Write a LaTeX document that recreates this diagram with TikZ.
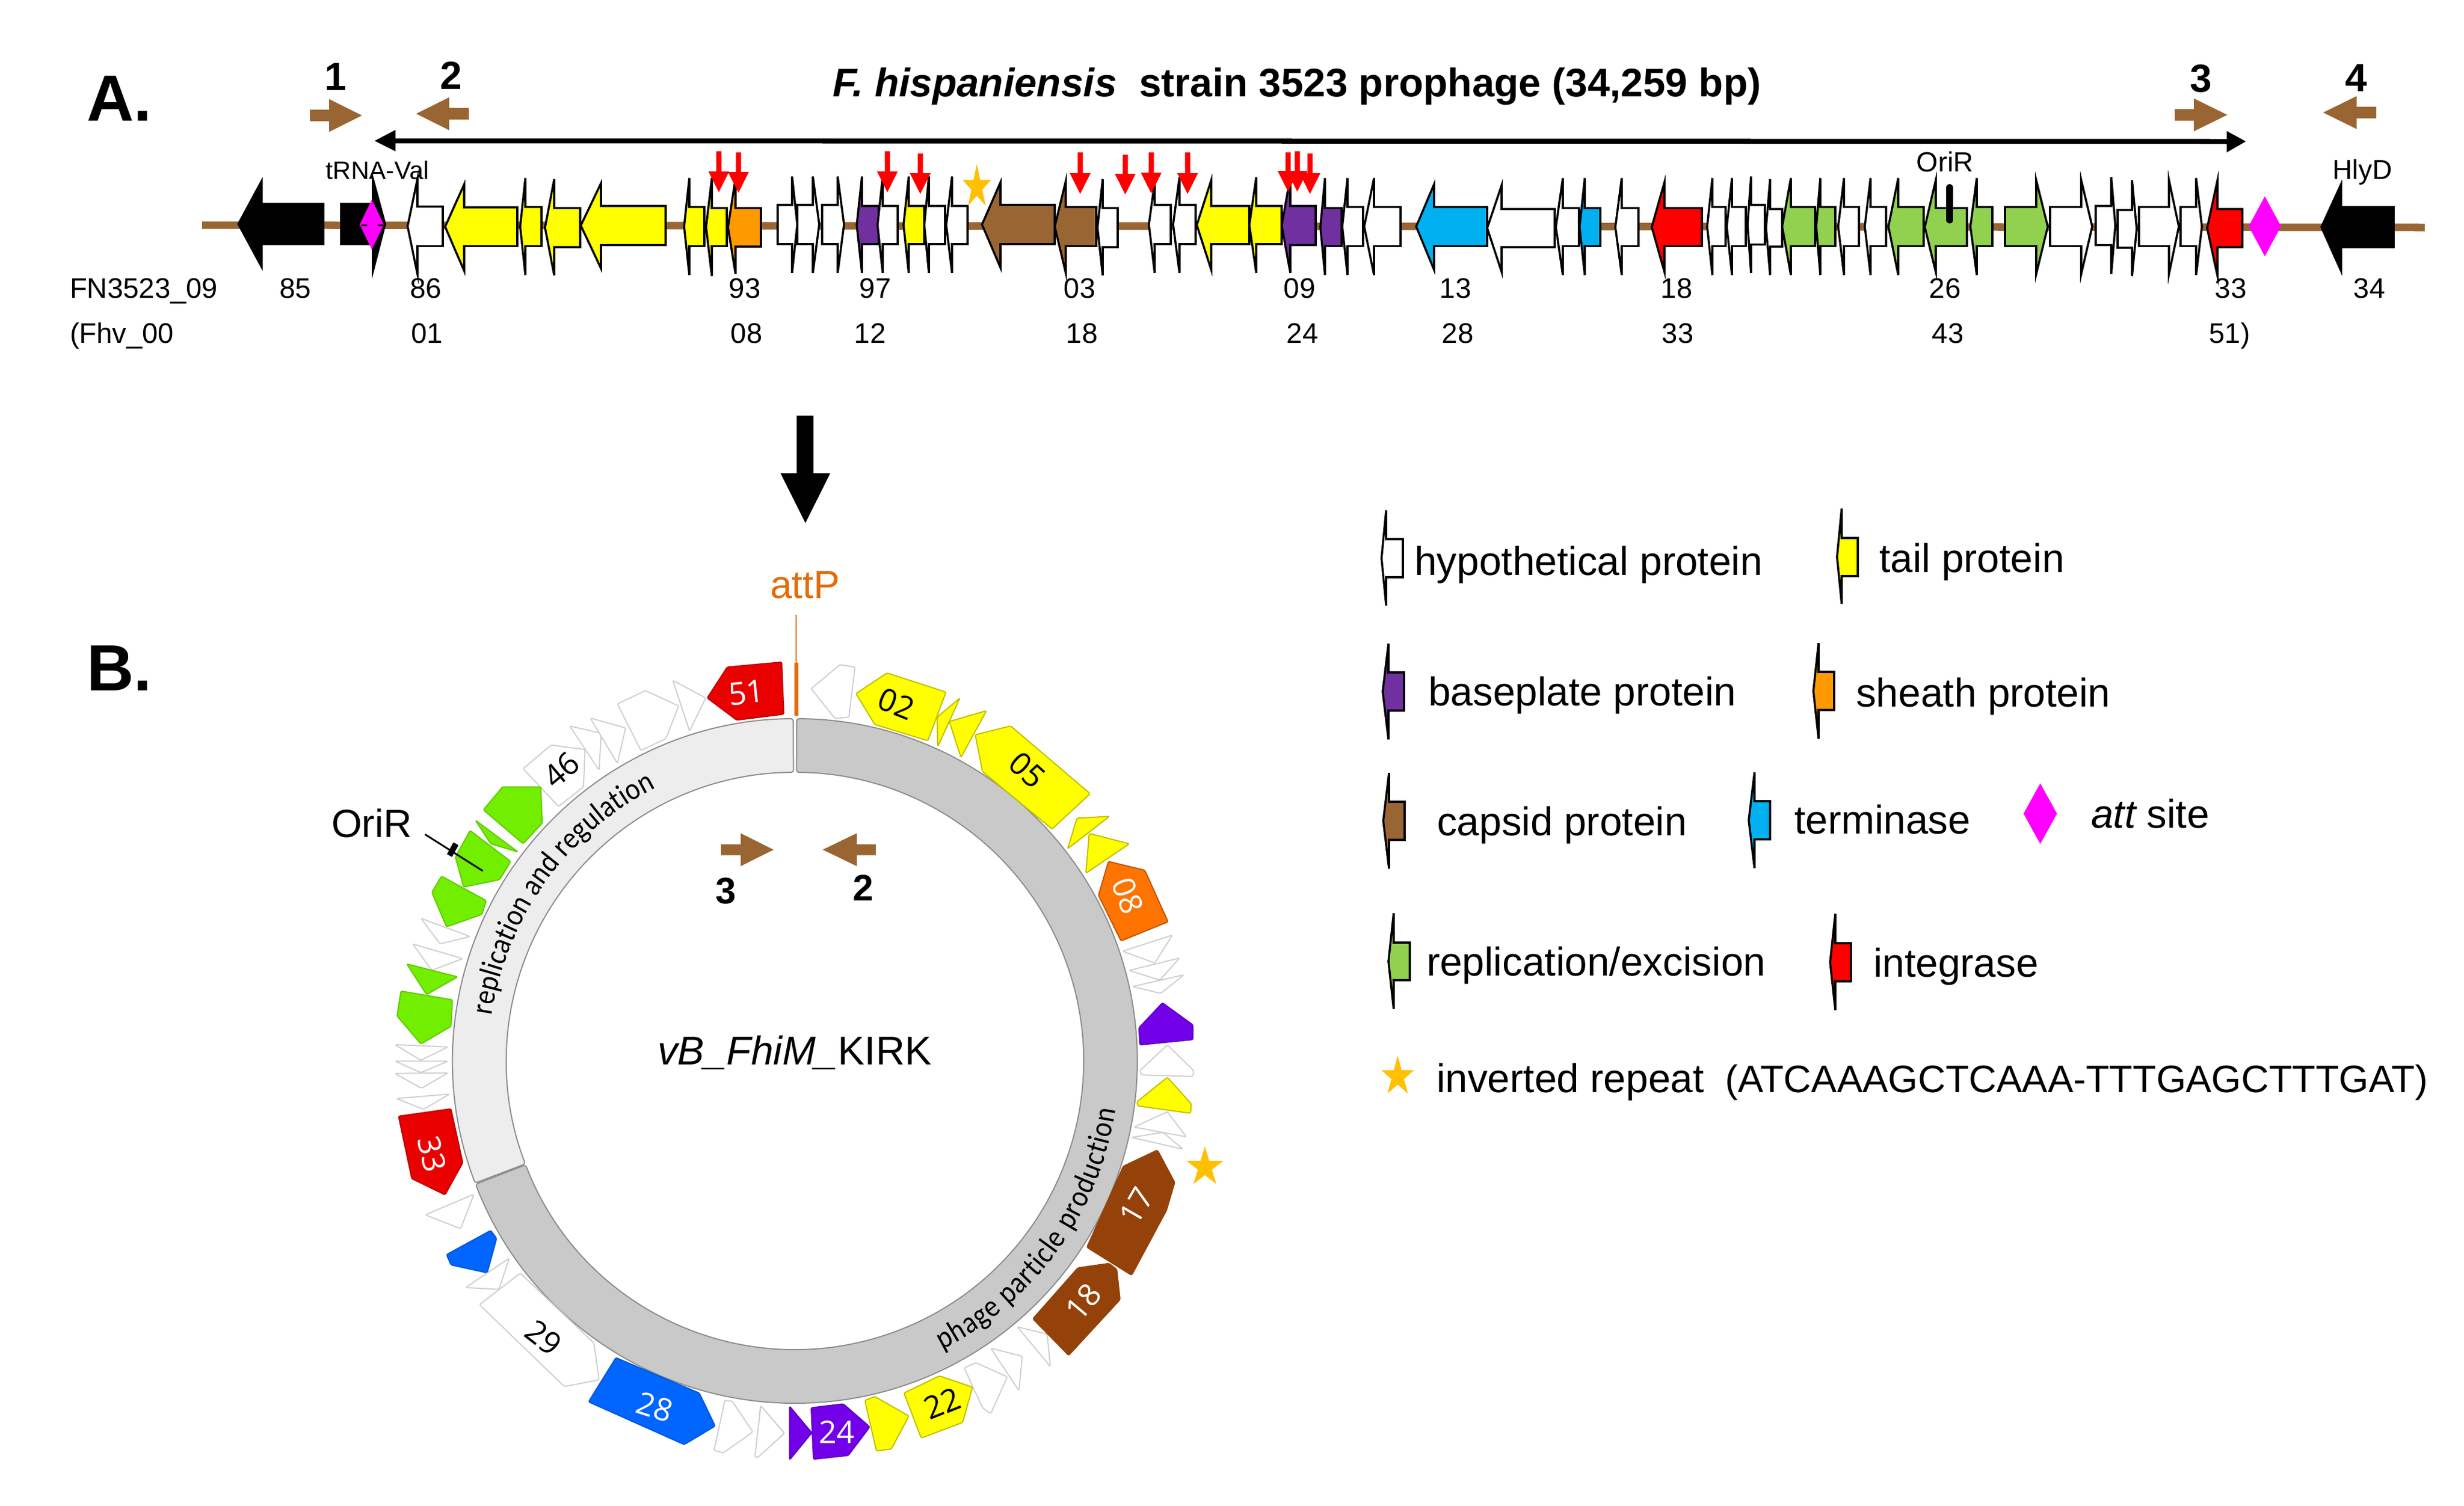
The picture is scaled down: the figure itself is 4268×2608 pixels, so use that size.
\documentclass[tikz,border=0pt]{standalone}
\usepackage{fontspec}
\usetikzlibrary{decorations.text}
\setmainfont{Liberation Sans}
\newfontfamily\ringfam[FakeStretch=0.88]{Carlito}
\newfontfamily\numfam{Open Sans}
\newcommand\fpx[1]{\pgfmathsetmacro\fsz{#1*0.28453}\fontsize{\fsz pt}{\fsz pt}\selectfont}
\newcommand\ringfont{\ringfam\fontsize{15.3pt}{15.3pt}\selectfont}
\definecolor{gbrown}{HTML}{996633}
\definecolor{gorange}{HTML}{FF9900}
\definecolor{gpurple}{HTML}{7030A0}
\definecolor{gcyan}{HTML}{00B0F0}
\definecolor{ggreen}{HTML}{92D050}
\definecolor{gstar}{HTML}{FFC000}
\definecolor{gmag}{HTML}{FF00FF}
\definecolor{cred}{HTML}{EB0000}
\definecolor{cyellow}{HTML}{FFFF00}
\definecolor{corange}{HTML}{FF7300}
\definecolor{cpurple}{HTML}{7200E8}
\definecolor{cgreen}{HTML}{72EE00}
\definecolor{cblue}{HTML}{0066FF}
\definecolor{cbrown}{HTML}{94420A}
\definecolor{cedge}{HTML}{CFCFCF}
\definecolor{attcol}{HTML}{E36C0A}
\tikzset{
  lab/.style={inner sep=0pt,outer sep=0pt,anchor=base west},
  labc/.style={inner sep=0pt,outer sep=0pt,anchor=base},
  gene/.style={draw=black,line width=0.036cm,line join=miter},
  cg/.style={line width=0.02cm,line join=round,rounded corners=0.025cm},
  numlab/.style={inner sep=0pt,outer sep=0pt,anchor=center,font=\numfam\fpx{54}},
  ringa/.style={draw=black!45,line width=0.02cm,rounded corners=0.04cm},
}
% tail, neck, tip, head top, head bottom, body top, body bottom, colour
\newcommand\genepoly[8]{\draw[gene,fill=#8] (#1,#6) -- (#2,#6) -- (#2,#4) -- (#3,{(#6+#7)/2}) -- (#2,#5) -- (#2,#7) -- (#1,#7) -- cycle;}
% x, y top, y tip
\newcommand\redarrow[3]{\fill[red] (#1-4.5,#2) -- (#1+4.5,#2) -- (#1+4.5,#3-36) -- (#1+18,#3-36) -- (#1,#3) -- (#1-18,#3-36) -- (#1-4.5,#3-36) -- cycle;}
% tail, neck, tip, yc, head half, shaft half
\newcommand\primer[6]{\fill[gbrown] (#1,#4-#6) -- (#2,#4-#6) -- (#2,#4-#5) -- (#3,#4) -- (#2,#4+#5) -- (#2,#4+#6) -- (#1,#4+#6) -- cycle;}
\newcommand\starshape[5]{\fill[#5,shift={(#1,#2)},xscale=#3,yscale=#4] (0,-1) -- (.2245,-.309) -- (.951,-.309) -- (.363,.118) -- (.588,.809) -- (0,.382) -- (-.588,.809) -- (-.363,.118) -- (-.951,-.309) -- (-.2245,-.309) -- cycle;}
\newcommand\diam[4]{\fill[gmag] (#1,#3) -- (#2,{(#3+#4)/2}) -- (#1,#4) -- ({2*#1-#2},{(#3+#4)/2}) -- cycle;}
\begin{document}
\begin{tikzpicture}[x=0.01cm,y=-0.01cm]
\useasboundingbox (0,0) rectangle (4268,2608);
\fill[white] (0,0) rectangle (4268,2608);

% ---------- Panel A ----------
\node[lab,font=\bfseries\fpx{113}] (panelA) at (150,209) {A.};
\node[lab,font=\bfseries\fpx{113}] (panelB) at (150,1196) {B.};
\node[lab,font=\bfseries\fpx{69.2}] (title) at (1442,167) {\itshape F. hispaniensis\upshape\ \ strain 3523 prophage (34,259 bp)};

\foreach \x/\t/\yy in {581/1/156,781/2/154,3812/3/159,4081/4/158}
  {\node[labc,font=\bfseries\fpx{68}] (pn\t) at (\x,\yy) {\t};}
\primer{537}{570}{627}{200}{28.5}{10}
\primer{812}{778}{721}{197}{28.5}{10}
\primer{3767}{3800}{3858}{199}{28.5}{10}
\primer{4116}{4082}{4024}{195}{28.5}{10}

% span arrow
\coordinate (spanL) at (680,244);
\coordinate (spanR) at (3860,245);
\draw[line width=0.085cm] (spanL) -- (spanR);
\fill (649,244) -- (685,225) -- (685,262) -- cycle;
\fill (3890,245) -- (3857,227) -- (3857,264) -- cycle;

% backbone
\coordinate (bbL) at (350,390);
\coordinate (bbR) at (4200,394);
\draw[gbrown,line width=0.13cm] (bbL) -- (bbR);

\begin{scope}[shift={(0,80)},yscale=1/2.8]
\foreach \ta/\ne/\ti/\col/\ht/\hb/\bt/\bb in {
 560/453/413/black/655/1070/765/960,
 591/646/667/black/645/1090/765/960,
 767/723/706/white/645/1105/778/970,
 896/804/771/cyellow/670/1090/782/970,
 938/910/901/cyellow/640/1110/780/970,
 1005/960/944/cyellow/645/1112/785/975,
 1153/1041/1006/cyellow/665/1078/775/965,
 1220/1194/1185/cyellow/640/1110/780/970,
 1259/1233/1223/cyellow/640/1115/785/970,
 1318/1274/1261/gorange/640/1105/785/972,
 1347/1372/1381/white/632/1100/770/960,
 1381/1408/1419/white/632/1100/770/960,
 1424/1451/1462/white/632/1100/770/960,
 1522/1493/1484/gpurple/632/1100/775/960,
 1555/1529/1520/white/632/1100/775/960,
 1601/1574/1565/cyellow/632/1100/775/960,
 1637/1609/1601/white/632/1100/775/960,
 1676/1649/1639/white/632/1100/775/960,
 1827/1733/1701/gbrown/660/1075/770/960,
 1899/1846/1827/gbrown/655/1100/780/970,
 1936/1910/1901/white/645/1112/785/975,
 2028/2000/1990/white/660/1100/770/960,
 2071/2043/2032/white/635/1100/770/960,
 2164/2098/2073/cyellow/650/1085/775/960,
 2220/2176/2164/cyellow/635/1100/775/960,
 2279/2235/2220/gpurple/635/1100/775/965,
 2324/2295/2287/gpurple/640/1110/785/970,
 2361/2334/2325/white/640/1110/780/970,
 2426/2380/2363/white/640/1110/780/970,
 2576/2484/2453/gcyan/670/1085/780/970,
 2693/2601/2576/white/675/1095/790/975,
 2735/2707/2695/white/640/1110/785/970,
 2772/2745/2736/gcyan/640/1110/785/970,
 2838/2809/2798/white/640/1110/785/970,
 2948/2883/2861/red/660/1095/785/970,
 2989/2966/2957/white/640/1110/780/970,
 3024/3000/2991/white/640/1110/780/970,
 3057/3033/3027/white/632/1100/770/962,
 3087/3066/3059/white/645/1110/790/972,
 3144/3102/3087/ggreen/640/1110/780/970,
 3179/3153/3146/ggreen/640/1110/780/970,
 3220/3194/3184/white/640/1110/780/970,
 3267/3240/3230/white/640/1110/780/970,
 3332/3288/3271/ggreen/640/1110/780/970,
 3407/3353/3334/ggreen/650/1095/785/970,
 3451/3424/3413/ggreen/640/1110/780/970,
 3473/3527/3547/ggreen/650/1105/780/970,
 3551/3605/3624/white/650/1105/780/970,
 3630/3657/3664/white/635/1105/775/965,
 3668/3693/3701/white/650/1115/795/978,
 3705/3757/3774/white/650/1105/780/970,
 3777/3804/3814/white/640/1110/780/970,
 3884/3841/3823/red/650/1115/790/975,
 4146/4055/4021/black/670/1090/780/975}
 {\genepoly{\ta}{\ne}{\ti}{\ht}{\hb}{\bt}{\bb}{\col}}
\end{scope}

% att sites (linear map)
\diam{644}{665}{346}{432}
\draw[line width=0.03cm] (626,390) -- (636,390) (654,390) -- (665,390);
\diam{3923}{3951}{340}{444}

% red arrows
\foreach \x/\a/\b in {1245/262/333,1279/264/334,1537/262/333,1594/266/336,1871/264/336,1949/268/337,1994/264/335,2057/264/336,2231/264/332,2247/262/332,2269/266/336}
  {\redarrow{\x}{\a}{\b}}

% inverted repeat star, OriR tick
\starshape{1692}{324}{26}{40}{gstar}
\coordinate (oriT) at (3377,325);
\coordinate (oriB) at (3377,381);
\draw[line width=0.12cm,line cap=round] (oriT) -- (oriB);

% small labels
\node[labc,font=\fpx{43.7}] (trna) at (654,310) {tRNA-Val};
\node[labc,font=\fpx{48}] (oriA) at (3369,297) {OriR};
\node[labc,font=\fpx{47.5}] (hlyd) at (4092,310) {HlyD};

\node[lab,font=\fpx{49}] (fn) at (121,516) {FN3523\_09};
\node[lab,font=\fpx{49}] (fhv) at (121,594) {(Fhv\_00};
\foreach \x/\t in {512/85,738/86,1290/93,1516/97,1870/03,2251/09,2521/13,2904/18,3369/26,3864/33,4104/34}
  {\node[labc,font=\fpx{49}] (ra\t) at (\x,516) {\t};}
\foreach \x/\t in {740/01,1293/08,1507/12,1874/18,2256/24,2525/28,2906/33,3374/43,3862/51)}
  {\node[labc,font=\fpx{49}] (rb\x) at (\x,594) {\t};}

% big arrow
\fill (1380,720) -- (1409,720) -- (1409,820) -- (1438,820) -- (1395,906) -- (1352,820) -- (1380,820) -- cycle;

% ---------- Panel B ----------
\def\cx{1377}\def\cy{1838}
\draw[ringa,fill=black!21] ([shift={(\cx,\cy)}]270.3:593) arc[start angle=270.3,end angle=518.9,radius=593] -- ([shift={(\cx,\cy)}]158.9:500) arc[start angle=518.9,end angle=270.3,radius=500] -- cycle;
\draw[ringa,fill=black!7] ([shift={(\cx,\cy)}]159.1:593) arc[start angle=159.1,end angle=269.7,radius=593] -- ([shift={(\cx,\cy)}]269.7:500) arc[start angle=269.7,end angle=159.1,radius=500] -- cycle;

\path[decorate,decoration={text along path,text align={fit to path},text={|\ringfont|replication and regulation}}]
  ([shift={(\cx,\cy)}]188.5:531) arc[start angle=188.5,end angle=243,radius=531];
\path[decorate,decoration={text along path,text align={fit to path},text={|\ringfont|phage particle production}}]
  ([shift={(\cx,\cy)}]63:562) arc[start angle=63,end angle=8.6,radius=562];

% attP
\node[lab,font=\fpx{68},text=attcol] (attp) at (1334,1036) {attP};
\coordinate (attT) at (1379,1065);
\coordinate (attM) at (1379,1148);
\coordinate (attB) at (1379,1240);
\draw[attcol,line width=0.025cm] (attT) -- (attM);
\draw[attcol,line width=0.07cm] (attM) -- (attB);

% primers in circle
\primer{1249}{1283}{1340}{1472}{28.5}{9.5}
\primer{1517}{1484}{1425}{1472}{28.5}{9.5}
\node[labc,font=\bfseries\fpx{64}] (p3b) at (1257,1565) {3};
\node[labc,font=\bfseries\fpx{64}] (p2b) at (1495,1560) {2};

\node[lab,font=\fpx{69.4}] (phage) at (1139,1844) {\itshape vB\_FhiM\_\upshape KIRK};

% --- upper left quadrant
\begin{scope}[shift={(600,1000)},scale=1/1.96]
\fill[cred,draw=cred!80!black,cg] (1225,410) -- (1293,305) -- (1478,288) -- (1485,465) -- (1325,485) -- cycle;
\node[numlab,text=white,rotate=6] (n51) at (1358,392) {51};
\draw[cedge,fill=white,cg] (1108,350) -- (1220,410) -- (1165,522) -- cycle;
\draw[cedge,fill=white,cg] (920,430) -- (1015,385) -- (1128,437) -- (1085,548) -- (1000,588) -- cycle;
\draw[cedge,fill=white,cg] (758,505) -- (865,530) -- (858,655) -- cycle;
\draw[cedge,fill=white,cg] (828,478) -- (948,512) -- (920,632) -- cycle;
\draw[cedge,fill=white,cg] (600,650) -- (695,570) -- (810,585) -- (805,712) -- (720,778) -- cycle;
\node[numlab,rotate=40] (n46) at (730,655) {46};
\fill[cgreen,draw=cgreen!85!black,cg] (465,790) -- (530,712) -- (660,712) -- (665,835) -- (600,905) -- cycle;
\fill[cgreen,draw=cgreen!85!black,cg] (438,825) -- (583,933) -- (490,905) -- cycle;
\fill[cgreen,draw=cgreen!85!black,cg] (370,950) -- (420,860) -- (558,965) -- (520,1027) -- (398,1052) -- cycle;
\fill[cgreen,draw=cgreen!85!black,cg] (290,1070) -- (323,1015) -- (475,1098) -- (460,1145) -- (340,1187) -- cycle;
\draw[cedge,fill=white,cg] (253,1158) -- (420,1220) -- (318,1245) -- cycle;
\draw[cedge,fill=white,cg] (225,1245) -- (395,1295) -- (290,1335) -- cycle;
\fill[cgreen,draw=cgreen!85!black,cg] (205,1313) -- (378,1357) -- (272,1417) -- cycle;
\fill[cgreen,draw=cgreen!85!black,cg] (172,1490) -- (185,1405) -- (360,1435) -- (355,1525) -- (253,1585) -- cycle;
\coordinate (oriS) at (267,873);
\coordinate (oriE) at (463,997);
\draw[line width=0.03cm] (oriS) -- (oriE);
\draw[line width=0.1cm] (350,945) -- (372,905);
\end{scope}
\node[lab,font=\fpx{68}] (oriB2) at (574,1450) {OriR};

% --- upper right quadrant
\begin{scope}[shift={(1300,1000)},xscale=1/1.742,yscale=1/1.96]
\draw[cedge,fill=white,cg] (183,378) -- (270,297) -- (315,305) -- (297,475) -- (255,480) -- cycle;
\fill[cyellow,draw=cyellow!75!black,cg] (318,395) -- (412,325) -- (590,390) -- (535,555) -- (375,500) -- cycle;
\node[numlab,rotate=-22] (n02) at (440,430) {02};
\fill[cyellow,draw=cyellow!75!black,cg] (563,475) -- (632,410) -- (565,575) -- cycle;
\fill[cyellow,draw=cyellow!75!black,cg] (600,490) -- (712,453) -- (635,612) -- cycle;
\fill[cyellow,draw=cyellow!75!black,cg] (678,535) -- (785,505) -- (1025,735) -- (910,855) -- (700,660) -- cycle;
\node[numlab,rotate=-42] (n05) at (835,655) {05};
\fill[cyellow,draw=cyellow!75!black,cg] (985,818) -- (1083,812) -- (957,922) -- cycle;
\fill[cyellow,draw=cyellow!75!black,cg] (1022,870) -- (1143,905) -- (1012,1005) -- cycle;
\fill[corange,draw=corange!75!black,cg] (1080,965) -- (1190,995) -- (1260,1170) -- (1118,1235) -- (1050,1080) -- cycle;
\node[numlab,text=white,rotate=-70] (n08) at (1138,1082) {08};
\draw[cedge,fill=white,cg] (1123,1270) -- (1273,1215) -- (1220,1310) -- cycle;
\draw[cedge,fill=white,cg] (1142,1335) -- (1295,1293) -- (1235,1368) -- cycle;
\draw[cedge,fill=white,cg] (1152,1390) -- (1308,1350) -- (1238,1413) -- cycle;
\end{scope}

% --- lower right quadrant
\begin{scope}[shift={(1300,1750)},xscale=1/1.742,yscale=1/1.96]
\fill[cpurple,draw=cpurple!85!black,cg] (1172,60) -- (1243,-25) -- (1335,50) -- (1335,100) -- (1175,118) -- cycle;
\draw[cedge,fill=white,cg] (1175,205) -- (1258,118) -- (1337,205) -- (1335,225) -- (1180,220) -- cycle;
\fill[cyellow,draw=cyellow!75!black,cg] (1167,310) -- (1258,228) -- (1330,318) -- (1328,350) -- (1168,325) -- cycle;
\draw[cedge,fill=white,cg] (1157,397) -- (1258,345) -- (1315,430) -- cycle;
\draw[cedge,fill=white,cg] (1150,432) -- (1245,415) -- (1305,472) -- cycle;
\draw[cedge,fill=white,cg] (805,1075) -- (895,1100) -- (905,1210) -- cycle;
\fill[cbrown,draw=cbrown,cg] (1125,530) -- (1228,475) -- (1280,585) -- (1255,680) -- (1150,900) -- (1015,805) -- cycle;
\node[numlab,text=white,rotate=60] (n17) at (1165,665) {17};
\fill[cbrown,draw=cbrown,cg] (852,1048) -- (988,875) -- (1082,860) -- (1105,880) -- (1115,983) -- (960,1172) -- cycle;
\node[numlab,text=white,rotate=50] (n18) at (1005,990) {18};
\draw[cedge,fill=white,cg] (725,1148) -- (820,1175) -- (810,1292) -- cycle;
\draw[cedge,fill=white,cg] (645,1215) -- (680,1197) -- (775,1245) -- (725,1370) -- (700,1350) -- cycle;
\fill[cyellow,draw=cyellow!75!black,cg] (463,1300) -- (570,1242) -- (670,1280) -- (640,1400) -- (515,1453) -- cycle;
\node[numlab,rotate=22] (n22) at (578,1335) {22};
\fill[cyellow,draw=cyellow!75!black,cg] (345,1325) -- (375,1312) -- (478,1378) -- (425,1490) -- (380,1497) -- cycle;
\fill[cpurple,draw=cpurple!85!black,cg] (183,1350) -- (280,1337) -- (360,1415) -- (295,1512) -- (190,1525) -- cycle;
\node[numlab,text=white] (n24) at (260,1432) {24};
\fill[cpurple,draw=cpurple!85!black,cg] (118,1345) -- (185,1435) -- (118,1527) -- cycle;
\draw[cedge,fill=white,cg] (30,1343) -- (103,1437) -- (15,1520) -- cycle;
\end{scope}
\starshape{2087}{2022}{33.6}{36}{gstar}

% --- lower left quadrant
\begin{scope}[shift={(600,1750)},scale=1/1.96]
\draw[cedge,fill=white,cg] (165,117) -- (345,125) -- (253,170) -- cycle;
\draw[cedge,fill=white,cg] (165,173) -- (345,173) -- (253,212) -- cycle;
\draw[cedge,fill=white,cg] (165,215) -- (345,213) -- (255,265) -- cycle;
\draw[cedge,fill=white,cg] (170,300) -- (350,285) -- (262,337) -- cycle;
\fill[cred,draw=cred!80!black,cg] (177,360) -- (355,335) -- (395,518) -- (335,627) -- (222,572) -- cycle;
\node[numlab,text=white,rotate=-77] (n33) at (290,488) {33};
\draw[cedge,fill=white,cg] (268,695) -- (433,625) -- (388,742) -- cycle;
\fill[cblue,draw=cblue!85!black,cg] (340,830) -- (490,748) -- (510,775) -- (478,892) -- (355,865) -- cycle;
\draw[cedge,fill=white,cg] (405,942) -- (553,842) -- (518,948) -- cycle;
\draw[cedge,fill=white,cg] (452,1000) -- (590,893) -- (840,1130) -- (858,1255) -- (740,1278) -- cycle;
\node[numlab,rotate=-38] (n29) at (670,1112) {29};
\fill[cblue,draw=cblue!85!black,cg] (822,1330) -- (915,1180) -- (1198,1300) -- (1252,1412) -- (1147,1475) -- cycle;
\node[numlab,text=white,rotate=-18] (n28) at (1047,1347) {28};
\draw[cedge,fill=white,cg] (1248,1495) -- (1285,1325) -- (1310,1328) -- (1380,1432) -- (1280,1503) -- cycle;
\draw[cedge,fill=white,cg] (1387,1515) -- (1407,1343) -- (1487,1437) -- (1395,1520) -- cycle;
\end{scope}

% ---------- Legend ----------
\foreach \ta/\ne/\ti/\col/\ht/\hb/\bt/\bb in {
 2430/2401/2393/white/884/1049/934/1000,
 3218/3190/3182/cyellow/881/1046/932/998,
 2432/2405/2395/gpurple/1115/1281/1165/1231,
 3177/3150/3141/gorange/1114/1280/1164/1230,
 2433/2406/2396/gbrown/1339/1505/1389/1455,
 3066/3039/3029/gcyan/1338/1504/1388/1454,
 2442/2414/2405/ggreen/1582/1748/1633/1698,
 3206/3179/3170/red/1583/1750/1634/1700}
 {\genepoly{\ta}{\ne}{\ti}{\ht}{\hb}{\bt}{\bb}{\col}}
\diam{3534}{3563}{1357}{1462}
\starshape{2421}{1865}{30}{36.5}{gstar}
\foreach \x/\yy/\nm/\t in {
 2450/996/lhyp/hypothetical protein,
 3255/991/ltail/tail protein,
 2474/1222/lbase/baseplate protein,
 3215/1224/lsheath/sheath protein,
 2489/1447/lcaps/capsid protein,
 3108/1444/lterm/terminase,
 2471/1690/lrep/{replication/excision},
 3245/1692/lint/integrase,
 2488/1892/linv/inverted repeat}
  {\node[lab,font=\fpx{69.5}] (\nm) at (\x,\yy) {\t};}
\node[lab,font=\fpx{69.5}] (latt) at (3622,1434) {\itshape att\upshape{} site};
\node[lab,font=\fpx{66.3}] (lseq) at (2988,1892) {(ATCAAAGCTCAAA-TTTGAGCTTTGAT)};
\end{tikzpicture}
\end{document}
